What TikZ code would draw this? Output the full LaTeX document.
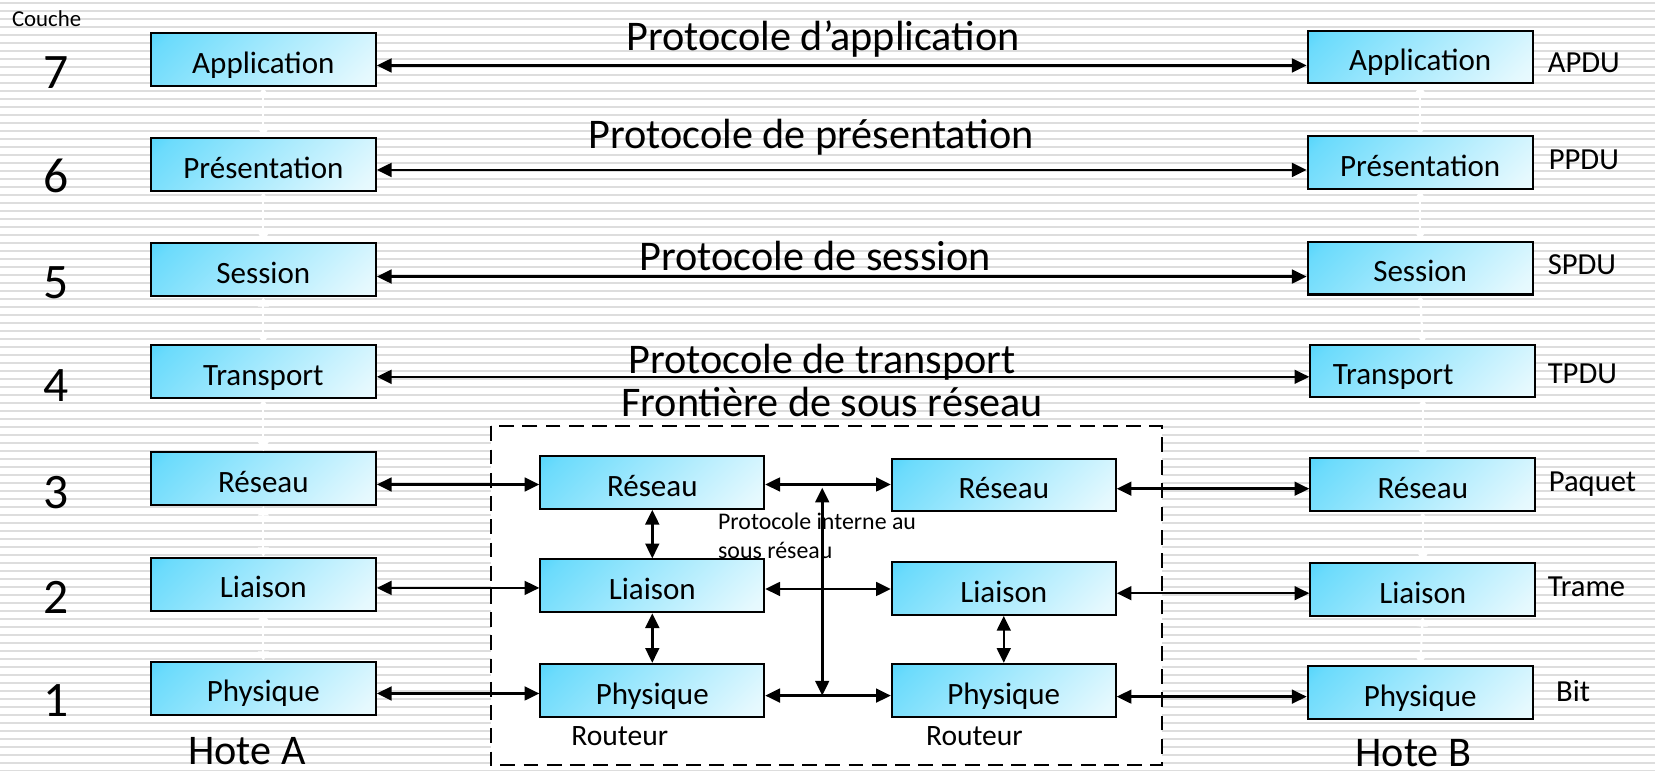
\documentclass[tikz,border=0pt]{standalone}
\usepackage{fontspec}
\setmainfont{Carlito}
\usetikzlibrary{arrows.meta}
\definecolor{boxcyan}{RGB}{28,200,250}
\definecolor{ruleline}{RGB}{221,221,221}
% diagonal box fill: vivid cyan in the upper left corner fading to white
\pgfdeclareverticalshading{layershade}{100bp}{%
  color(0bp)=(white); color(20bp)=(boxcyan!12!white); color(50bp)=(boxcyan!38!white);
  color(80bp)=(boxcyan!65!white); color(100bp)=(boxcyan)}
\begin{document}
\begin{tikzpicture}[x=0.5pt,y=-0.5pt,
  layer/.style={draw=black, line width=1pt, shading=layershade, shading angle=45,
    minimum width=106.5pt, minimum height=25pt, inner sep=0pt,
    font=\fontsize{14.7}{16}\selectfont, text height=16pt, text depth=3pt},
  conn/.style={line width=1.2pt, {Triangle[length=7pt,width=6.5pt]}-{Triangle[length=7pt,width=6.5pt]}},
  ghost/.style={white, line width=1pt, {Triangle[length=4.5pt,width=5pt]}-{Triangle[length=4.5pt,width=5pt]}},
  proto/.style={anchor=base, inner sep=0pt, font=\fontsize{20}{24}\selectfont},
  num/.style={anchor=base, inner sep=0pt, font=\fontsize{23.5}{28}\selectfont},
  pdu/.style={anchor=base west, inner sep=0pt, font=\fontsize{14.5}{17}\selectfont},
  small/.style={anchor=base west, inner sep=0pt, font=\fontsize{11.3}{14}\selectfont},
  host/.style={anchor=base west, inner sep=0pt, font=\fontsize{20}{24}\selectfont},
  router/.style={anchor=base west, inner sep=0pt, font=\fontsize{14}{17}\selectfont}]

\useasboundingbox (0,0) rectangle (1568,730);
\fill[white] (0,0) rectangle (1568,730);

% ruled background
\foreach \k in {0,...,96}
  \draw[ruleline, line width=0.9pt] (0,{(2.7+8*\k)/1.0555}) -- (1568,{(2.7+8*\k)/1.0555});

% subnetwork boundary
\draw[fill=white, line width=1pt, dash pattern=on 7pt off 4pt] (465,404) rectangle (1101,725);

% layer numbers
\node[anchor=base west, inner sep=0pt, font=\fontsize{10.8}{13}\selectfont] (couche) at (11,25) {Couche};
\node[num] (n7) at (53,84) {7};
\node[num] (n6) at (53,182) {6};
\node[num] (n5) at (53,283) {5};
\node[num] (n4) at (53,380) {4};
\node[num] (n3) at (53,482) {3};
\node[num] (n2) at (53,581) {2};
\node[num] (n1) at (53,679) {1};

% peer protocol labels
\node[proto] (papp) at (780,48) {Protocole d’application};
\node[proto] (ppres) at (768.5,141) {Protocole de présentation};
\node[proto] (pses) at (772.5,256) {Protocole de session};
\node[proto] (ptra) at (779,353.5) {Protocole de transport};
\node[proto] (pfront) at (788.5,395) {Frontière de sous réseau};

% host A
\node[layer] (lapp) at (249.5,56.5) {Application};
\node[layer] (lpres) at (249.5,156) {Présentation};
\node[layer] (lses) at (249.5,255.5) {Session};
\node[layer] (ltra) at (249.5,352) {Transport};
\node[layer] (lres) at (249.5,453.5) {Réseau};
\node[layer] (llia) at (249.5,553.5) {Liaison};
\node[layer] (lphy) at (249.5,652) {Physique};

% host B
\node[layer] (rapp) at (1345.5,54) {Application};
\node[layer] (rpres) at (1345.5,154) {Présentation};
\node[layer] (rses) at (1345.5,254) {Session};
\node[layer] (rtra) at (1348,351.5) {Transport\hspace*{28pt}};
\node[layer] (rres) at (1348,459) {Réseau};
\node[layer] (rlia) at (1348,558.5) {Liaison};
\node[layer] (rphy) at (1345.5,656) {Physique};

% hidden links inside each host
\foreach \a/\b in {lapp/lpres,lpres/lses,lses/ltra,ltra/lres,lres/llia,llia/lphy,
                   rapp/rpres,rpres/rses,rses/rtra,rtra/rres,rres/rlia,rlia/rphy}
  \draw[ghost] (\a.south) -- (\b.north);

% internal protocol note
\node[small] (note1) at (680,502) {Protocole interne au};
\node[small] (note2) at (680,529.5) {sous réseau};

% routers
\node[layer, minimum width=106pt] (ares) at (618,457) {Réseau};
\node[layer, minimum width=106pt] (alia) at (618,555) {Liaison};
\node[layer, minimum width=106pt] (aphy) at (618,654) {Physique};
\node[layer, minimum width=106pt] (bres) at (951,459.5) {Réseau};
\node[layer, minimum width=106pt] (blia) at (951,557.5) {Liaison};
\node[layer, minimum width=106pt] (bphy) at (951,654) {Physique};

% peer connections
\draw[conn] (lapp.east |- 0,62) -- (rapp.west |- 0,62);
\draw[conn] (lpres.east |- 0,161) -- (rpres.west |- 0,161);
\draw[conn] (lses.east |- 0,262) -- (rses.west |- 0,262);
\draw[conn] (ltra.east |- 0,357) -- (rtra.west |- 0,357);

\draw[conn] (lres.east |- 0,459) -- (ares.west |- 0,459);
\draw[conn] (ares.east |- 0,459) -- (bres.west |- 0,459);
\draw[conn] (bres.east |- 0,463) -- (rres.west |- 0,463);

\draw[conn] (llia.east |- 0,557) -- (alia.west |- 0,557);
\draw[conn] (alia.east |- 0,558) -- (blia.west |- 0,558);
\draw[conn] (blia.east |- 0,562) -- (rlia.west |- 0,562);

\draw[conn] (lphy.east |- 0,657) -- (aphy.west |- 0,657);
\draw[conn] (aphy.east |- 0,659) -- (bphy.west |- 0,659);
\draw[conn] (bphy.east |- 0,660) -- (rphy.west |- 0,660);

% router stacks
\draw[conn] (ares.south) -- (alia.north);
\draw[conn] (alia.south) -- (aphy.north);
\draw[conn] (blia.south) -- (bphy.north);

% subnetwork internal link
\coordinate (vtop) at (779,462);
\coordinate (vbot) at (779,659);
\draw[conn] (vtop) -- (vbot);

% layer data units
\node[pdu] (apdu) at (1466,69) {APDU};
\node[pdu] (ppdu) at (1467,161) {PPDU};
\node[pdu] (spdu) at (1466,260) {SPDU};
\node[pdu] (tpdu) at (1466,363) {TPDU};
\node[pdu] (paquet) at (1467,466) {Paquet};
\node[pdu] (trame) at (1466,565) {Trame};
\node[pdu] (bit) at (1474,665) {Bit};

% captions
\node[router] (rt1) at (541,706) {Routeur};
\node[router] (rt2) at (877,706) {Routeur};
\node[host] (hA) at (178,724) {Hote A};
\node[host] (hB) at (1284,726) {Hote B};
\end{tikzpicture}
\end{document}
